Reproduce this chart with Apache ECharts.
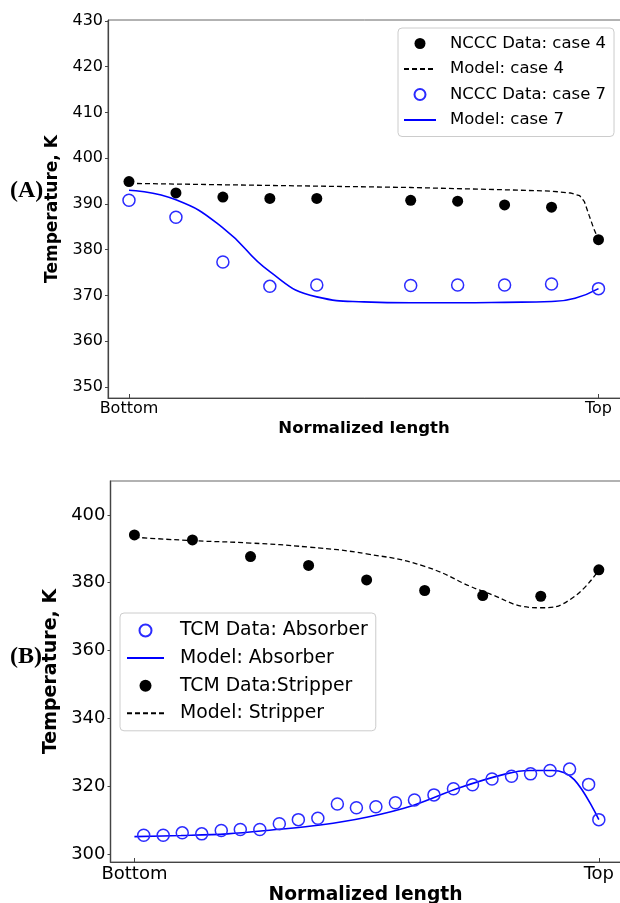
<!DOCTYPE html>
<html>
<head>
<meta charset="utf-8">
<script src="https://cdn.jsdelivr.net/npm/echarts@6/dist/echarts.min.js"></script>
<style>
  html, body { margin: 0; padding: 0; background: #fff; }
  #chart { width: 620px; height: 903px; }
</style>
</head>
<body>
<div id="chart"></div>
<script>
// (A) NCCC data
var caseX = [0, 0.1, 0.2, 0.3, 0.4, 0.6, 0.7, 0.8, 0.9, 1.0];
var case4Y = [394.9, 392.4, 391.5, 391.2, 391.2, 390.8, 390.6, 389.8, 389.3, 382.2];
var case7Y = [390.8, 387.1, 377.3, 372.0, 372.3, 372.2, 372.3, 372.3, 372.5, 371.5];

var model4X = [0, 0.2, 0.4, 0.6, 0.8, 0.9, 0.94, 0.96, 0.97, 0.98, 0.99, 1.0];
var model4Y = [394.5, 394.2, 393.9, 393.6, 393.1, 392.8, 392.4, 391.8, 390.5, 387.5, 384.6, 382.2];

var model7X = [0, 0.1, 0.2, 0.3, 0.4, 0.5, 0.6, 0.7, 0.8, 0.9, 0.95, 1.0];
var model7Y = [393.0, 390.9, 384.8, 375.2, 369.7, 368.6, 368.4, 368.4, 368.5, 368.7, 369.4, 371.5];

// (B) TCM data
var stripX = [0, 0.125, 0.25, 0.375, 0.5, 0.625, 0.75, 0.875, 1.0];
var stripY = [394.1, 392.6, 387.7, 385.1, 380.8, 377.7, 376.2, 376.0, 383.8];

var stripModelX = [0, 0.125, 0.25, 0.375, 0.5, 0.625, 0.75, 0.875, 0.94, 1.0];
var stripModelY = [393.4, 392.4, 391.7, 390.5, 388.5, 384.8, 377.5, 372.6, 375.2, 383.8];

var absX = [0.02, 0.062, 0.103, 0.145, 0.187, 0.228, 0.27, 0.312, 0.353, 0.395, 0.437, 0.478,
            0.52, 0.562, 0.603, 0.645, 0.687, 0.728, 0.77, 0.812, 0.853, 0.895, 0.937, 0.978, 1.0];
var absY = [305.5, 305.5, 306.2, 305.9, 306.9, 307.2, 307.2, 308.9, 310.1, 310.5, 314.7, 313.6,
            313.9, 315.1, 315.9, 317.4, 319.2, 320.4, 322.1, 322.9, 323.6, 324.6, 325.0, 320.5, 310.1];

var absModelX = [0, 0.1, 0.2, 0.3, 0.4, 0.5, 0.6, 0.7, 0.8, 0.85, 0.9, 0.947, 1.0];
var absModelY = [305.1, 305.4, 305.9, 307.1, 308.5, 310.8, 314.3, 319.5, 323.6, 324.6, 324.6, 321.9, 310.1];

var tickA = [350, 360, 370, 380, 390, 400, 410, 420, 430];
var tickB = [300, 320, 340, 360, 380, 400];

function pairs(xs, ys) {
    var out = [];
    for (var i = 0; i < xs.length; i++) out.push([xs[i], ys[i]]);
    return out;
}

var FONT = 'DejaVu Sans';
var BLUE = '#0000ff';

function xAxisFor(idx, min, max, fs, tfs) {
    return {
        gridIndex: idx, type: 'value', min: min, max: max,
        name: 'Normalized length', nameLocation: 'middle', nameGap: idx === 0 ? 22 : 24,
        nameTextStyle: {fontFamily: FONT, fontWeight: 'bold', fontSize: tfs, color: '#000', padding: [0, 10, 0, 0]},
        axisLine: {onZero: false, lineStyle: {color: '#444', width: 1.2}},
        axisTick: {show: true, inside: true, length: 4, customValues: [0, 1], lineStyle: {color: '#444'}},
        axisLabel: {
            customValues: [0, 1], margin: 3, fontFamily: FONT, fontSize: fs, color: '#000',
            formatter: function (v) { return v === 0 ? 'Bottom' : (v === 1 ? 'Top' : ''); }
        },
        splitLine: {show: false}
    };
}

function yAxisFor(idx, min, max, ticks, fs, tfs) {
    return {
        gridIndex: idx, type: 'value', min: min, max: max,
        name: 'Temperature, K', nameLocation: 'middle', nameRotate: 90, nameGap: idx === 0 ? 41 : 43,
        nameTextStyle: {fontFamily: FONT, fontWeight: 'bold', fontSize: tfs, color: '#000'},
        axisLine: {show: true, onZero: false, lineStyle: {color: '#444', width: 1.2}},
        axisTick: {show: true, length: 3, customValues: ticks, lineStyle: {color: '#444'}},
        axisLabel: {customValues: ticks, margin: 5, fontFamily: FONT, fontSize: fs, color: '#000'},
        splitLine: {show: false}
    };
}

var noDot = {opacity: 0};

var chart = echarts.init(document.getElementById('chart'));

var option = {
    backgroundColor: '#fff',
    animation: false,
    grid: [
        {left: 108, top: 20, width: 522, height: 378, outerBoundsMode: 'none', show: true, borderColor: '#666', borderWidth: 1},
        {left: 110.5, top: 481, width: 520, height: 381, outerBoundsMode: 'none', show: true, borderColor: '#999', borderWidth: 1.5}
    ],
    xAxis: [
        xAxisFor(0, -0.0447, 1.0671, 16, 16.5),
        xAxisFor(1, -0.0515, 1.0682, 18, 18.7)
    ],
    yAxis: [
        yAxisFor(0, 347.6, 430.2, tickA, 16, 17),
        yAxisFor(1, 297.6, 410, tickB, 18, 19)
    ],
    legend: [
        {
            data: [
                {name: 'NCCC Data: case 4'},
                {name: 'Model: case 4', itemStyle: noDot},
                {name: 'NCCC Data: case 7'},
                {name: 'Model: case 7', itemStyle: noDot}
            ],
            orient: 'vertical', left: 398, top: 28,
            padding: [7, 8, 8, 5], itemWidth: 32, itemHeight: 11, itemGap: 8.5,
            borderColor: '#ccc', borderWidth: 1, borderRadius: 4, backgroundColor: '#fff',
            textStyle: {fontFamily: FONT, fontSize: 16.5, color: '#000', padding: [0, 0, 0, 9]}
        },
        {
            data: [
                {name: 'TCM Data: Absorber'},
                {name: 'Model: Absorber', itemStyle: noDot},
                {name: 'TCM Data:Stripper'},
                {name: 'Model: Stripper', itemStyle: noDot}
            ],
            orient: 'vertical', left: 120, top: 613,
            padding: [8, 8, 8, 6], itemWidth: 37, itemHeight: 12, itemGap: 8.6,
            borderColor: '#ccc', borderWidth: 1, borderRadius: 4, backgroundColor: '#fff',
            textStyle: {fontFamily: FONT, fontSize: 18.8, color: '#000', padding: [0, 0, 0, 11]}
        }
    ],
    graphic: [
        {type: 'text', left: 10, top: 179, style: {text: '(A)', font: 'bold 24px "Liberation Serif"', fill: '#000'}},
        {type: 'text', left: 10, top: 645, style: {text: '(B)', font: 'bold 24px "Liberation Serif"', fill: '#000'}}
    ],
    series: [
        {
            name: 'Model: case 4', type: 'line', xAxisIndex: 0, yAxisIndex: 0,
            data: pairs(model4X, model4Y), showSymbol: false, symbol: 'none',
            smooth: false,
            lineStyle: {color: '#000', width: 1.3, type: [5, 3]}, itemStyle: {color: '#000'}, z: 2
        },
        {
            name: 'Model: case 7', type: 'line', xAxisIndex: 0, yAxisIndex: 0,
            data: pairs(model7X, model7Y), showSymbol: false, symbol: 'none',
            smooth: 0.5,
            lineStyle: {color: BLUE, width: 1.6}, itemStyle: {color: BLUE}, z: 2
        },
        {
            name: 'NCCC Data: case 4', type: 'scatter', xAxisIndex: 0, yAxisIndex: 0,
            data: pairs(caseX, case4Y), symbol: 'circle', symbolSize: 11,
            itemStyle: {color: '#000', opacity: 1}, z: 3
        },
        {
            name: 'NCCC Data: case 7', type: 'scatter', xAxisIndex: 0, yAxisIndex: 0,
            data: pairs(caseX, case7Y), symbol: 'circle', symbolSize: 12,
            itemStyle: {color: 'rgba(255,255,255,0)', borderColor: '#2b2bff', borderWidth: 1.5, opacity: 1}, z: 3
        },
        {
            name: 'Model: Stripper', type: 'line', xAxisIndex: 1, yAxisIndex: 1,
            data: pairs(stripModelX, stripModelY), showSymbol: false, symbol: 'none',
            smooth: 0.5,
            lineStyle: {color: '#000', width: 1.3, type: [5, 3]}, itemStyle: {color: '#000'}, z: 2
        },
        {
            name: 'Model: Absorber', type: 'line', xAxisIndex: 1, yAxisIndex: 1,
            data: pairs(absModelX, absModelY), showSymbol: false, symbol: 'none',
            smooth: 0.35,
            lineStyle: {color: BLUE, width: 1.6}, itemStyle: {color: BLUE}, z: 2
        },
        {
            name: 'TCM Data: Absorber', type: 'scatter', xAxisIndex: 1, yAxisIndex: 1,
            data: pairs(absX, absY), symbol: 'circle', symbolSize: 12,
            itemStyle: {color: 'rgba(255,255,255,0)', borderColor: '#2b2bff', borderWidth: 1.5, opacity: 1}, z: 3
        },
        {
            name: 'TCM Data:Stripper', type: 'scatter', xAxisIndex: 1, yAxisIndex: 1,
            data: pairs(stripX, stripY), symbol: 'circle', symbolSize: 11,
            itemStyle: {color: '#000', opacity: 1}, z: 3
        }
    ]
};

chart.setOption(option);
</script>
</body>
</html>
